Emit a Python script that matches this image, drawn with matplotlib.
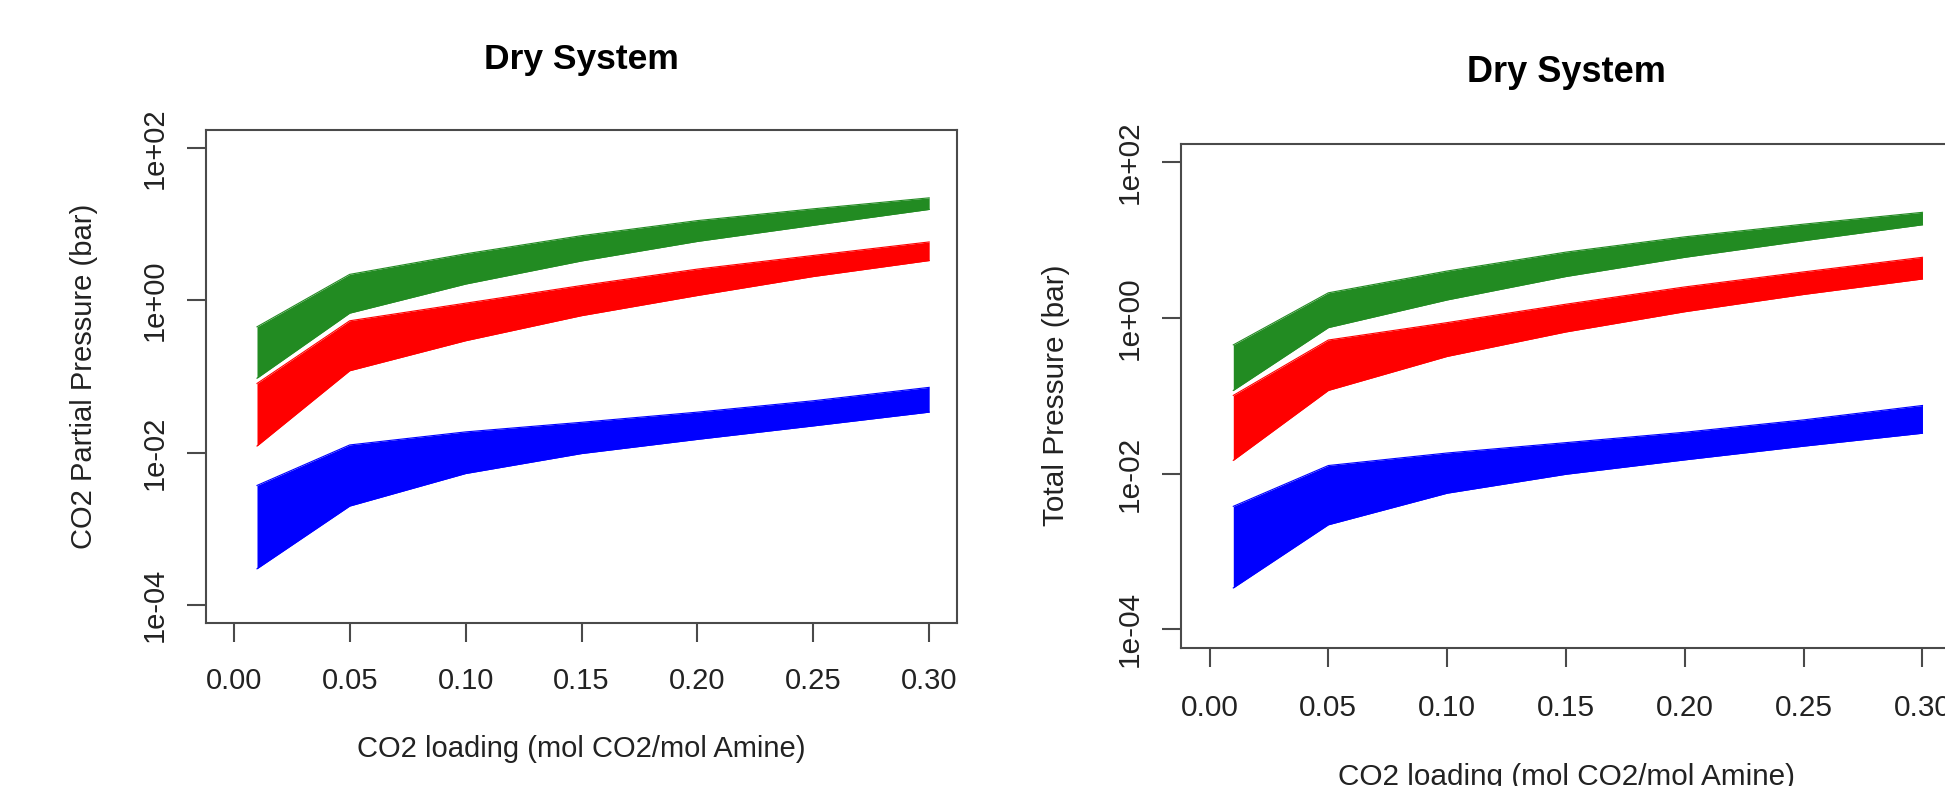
import matplotlib
matplotlib.use("Agg")
import matplotlib.pyplot as plt
import numpy as np

# ---------------- data ----------------
loading = [0.01, 0.05, 0.10, 0.15, 0.20, 0.25, 0.30]

# left panel: CO2 partial pressure (bar), band envelopes
left_green_upper = [0.45, 2.2, 4.1, 7.1, 11.2, 16.0, 22.3]
left_green_lower = [0.095, 0.68, 1.64, 3.3, 5.96, 9.7, 15.7]
left_red_upper = [0.081, 0.54, 0.92, 1.57, 2.58, 3.9, 5.87]
left_red_lower = [0.0122, 0.119, 0.295, 0.63, 1.16, 2.06, 3.34]
left_blue_upper = [0.0037, 0.0126, 0.0187, 0.025, 0.034, 0.048, 0.072]
left_blue_lower = [0.000297, 0.00198, 0.0053, 0.0097, 0.0149, 0.0224, 0.034]

# right panel: total pressure (bar), band envelopes
right_green_upper = [0.45, 2.1, 4.0, 7.0, 11.0, 16.0, 22.7]
right_green_lower = [0.117, 0.75, 1.7, 3.4, 6.0, 9.8, 15.7]
right_red_upper = [0.101, 0.52, 0.87, 1.5, 2.5, 3.9, 6.0]
right_red_lower = [0.0148, 0.117, 0.32, 0.66, 1.2, 2.0, 3.16]
right_blue_upper = [0.0038, 0.0127, 0.0184, 0.025, 0.034, 0.049, 0.075]
right_blue_lower = [0.00034, 0.0022, 0.0056, 0.0098, 0.015, 0.0225, 0.033]

x_ticks = [0.00, 0.05, 0.10, 0.15, 0.20, 0.25, 0.30]
x_tick_labels = ["0.00", "0.05", "0.10", "0.15", "0.20", "0.25", "0.30"]
y_ticks = [1e-4, 1e-2, 1e0, 1e2]
y_tick_labels = ["1e-04", "1e-02", "1e+00", "1e+02"]

title_text = "Dry System"
xlabel_text = "CO2 loading (mol CO2/mol Amine)"
left_ylabel = "CO2 Partial Pressure (bar)"
right_ylabel = "Total Pressure (bar)"

GREEN = "#228B22"
RED = "#FF0000"
BLUE = "#0000FF"
TXT = "#222222"
AXC = "#4a4a4a"

W, H = 1945, 786
plt.rcParams["font.family"] = ["Liberation Sans", "DejaVu Sans"]
fig = plt.figure(figsize=(W / 100, H / 100), dpi=100)


def rect(left, top, right, bottom):
    return [left / W, 1 - bottom / H, (right - left) / W, (bottom - top) / H]


def draw_panel(ax, bands, ylabel, scale, title_y_px, ylabel_x_px, xlabel_y_px,
               box, xpad, ypad):
    for upper, lower, col in bands:
        ax.fill_between(loading, lower, upper, color=col, linewidth=0)
        ax.plot(loading, upper, color=col, lw=0.8)
        ax.plot(loading, lower, color=col, lw=0.8)
    ax.set_yscale("log")
    xr = 0.30 - 0.0
    ax.set_xlim(0.0 - 0.04 * xr, 0.30 + 0.04 * xr)
    ax.set_ylim(10 ** (-4 - 0.24), 10 ** (2 + 0.24))
    ax.set_xticks(x_ticks)
    ax.set_xticklabels(x_tick_labels)
    ax.set_yticks(y_ticks)
    ax.set_yticklabels(y_tick_labels)
    ax.minorticks_off()
    fs = 21 * scale
    ax.tick_params(axis="both", direction="out", length=13.5 * scale,
                   width=1.5, color=AXC, labelsize=fs, labelcolor=TXT)
    ax.tick_params(axis="x", pad=xpad)
    ax.tick_params(axis="y", pad=ypad, labelrotation=90)
    for lab in ax.get_yticklabels():
        lab.set_va("center")
    for sp in ax.spines.values():
        sp.set_color(AXC)
        sp.set_linewidth(1.5)

    left, top, right, bottom = box
    cx = (left + right) / 2
    cy = (top + bottom) / 2
    fig.text(cx / W, 1 - title_y_px / H, title_text, ha="center", va="center",
             fontsize=25.5 * scale, fontweight="bold", color="black")
    fig.text(ylabel_x_px / W, 1 - cy / H, ylabel, ha="center", va="center",
             rotation=90, fontsize=fs, color=TXT)
    fig.text(cx / W, 1 - xlabel_y_px / H, xlabel_text, ha="center", va="center",
             fontsize=fs, color=TXT)


# left panel
box_l = (206, 130, 957, 623)
ax1 = fig.add_axes(rect(*box_l))
draw_panel(ax1,
           [(left_green_upper, left_green_lower, GREEN),
            (left_red_upper, left_red_lower, RED),
            (left_blue_upper, left_blue_lower, BLUE)],
           left_ylabel, 1.0, 60, 84, 749, box_l, 18.5, 13)

# right panel (its right border lies just outside the picture)
box_r = (1181, 143.5, 1951, 648)
ax2 = fig.add_axes(rect(*box_r))
draw_panel(ax2,
           [(right_green_upper, right_green_lower, GREEN),
            (right_red_upper, right_red_lower, RED),
            (right_blue_upper, right_blue_lower, BLUE)],
           right_ylabel, 1.022, 73, 1056, 777, box_r, 19, 13)

fig.savefig("out.png", dpi=100, facecolor="white")
